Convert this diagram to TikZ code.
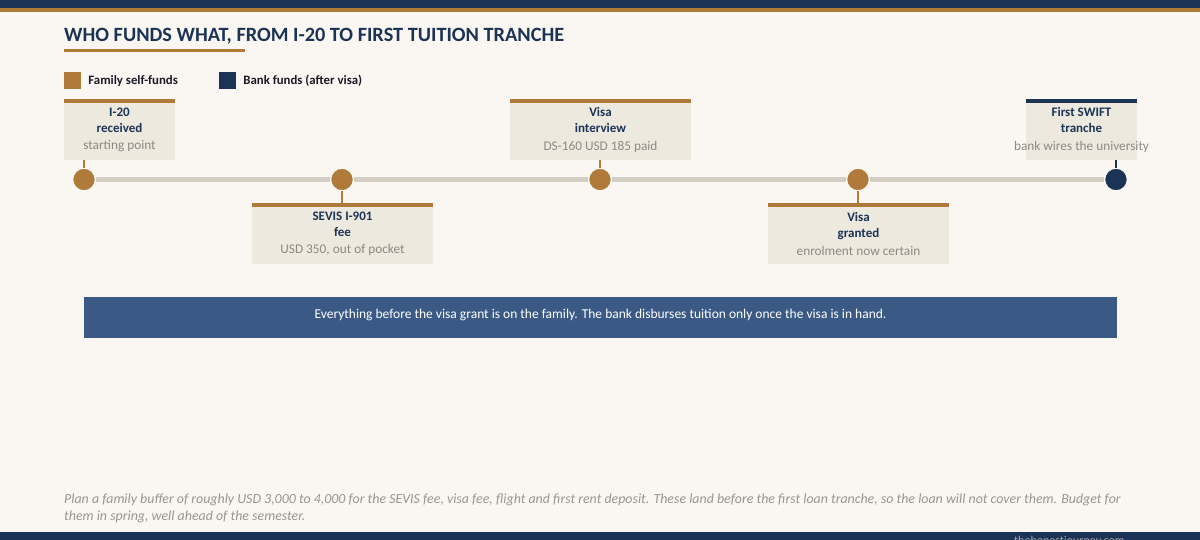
\documentclass[tikz,border=0pt]{standalone}
\usepackage{fontspec}
\setmainfont{Carlito}
\usetikzlibrary{positioning}
\definecolor{bgcol}{HTML}{FAF7F2}
\definecolor{navy}{HTML}{1B3455}
\definecolor{gold}{HTML}{B07B3A}
\definecolor{cardfill}{HTML}{EDE9DF}
\definecolor{trackgrey}{HTML}{D3CFC4}
\definecolor{subgrey}{HTML}{8E8A82}
\definecolor{bannerblue}{HTML}{3A5A85}
\definecolor{notegrey}{HTML}{9A968E}
\definecolor{keyink}{HTML}{1A1A28}
\tikzset{
  card/.style={fill=cardfill, minimum height=61pt, inner sep=0pt,
    path picture={\fill[#1] (path picture bounding box.north west)
      rectangle ([yshift=-4pt]path picture bounding box.north east);}},
  cardtext/.style={align=center, inner sep=0pt, text=navy,
    font=\fontsize{13}{16}\selectfont\bfseries},
  dot/.style={circle, fill=#1, draw=bgcol, line width=2pt, minimum size=23.5pt,
    inner sep=0pt, outer sep=0pt},
  track/.style={draw=trackgrey, line width=4.7pt},
  stem/.style={draw=#1, line width=2pt},
  swatch/.style={fill=#1, minimum size=17pt, inner sep=0pt},
  keytext/.style={font=\fontsize{12.8}{15}\selectfont\bfseries, text=keyink, inner sep=0pt}
}
\newcommand{\cardlabel}[3]{#1\\#2\\[1.5pt]{\color{subgrey}\fontsize{13.3}{14}\selectfont\mdseries #3}}

\begin{document}
\begin{tikzpicture}[x=1pt,y=-1pt]
\useasboundingbox (0,0) rectangle (1200,540);
\fill[bgcol] (0,0) rectangle (1200,540);
% top rule
\fill[navy] (0,0) rectangle (1200,8);
\fill[gold] (0,8) rectangle (1200,12.5);
% title and legend
\node[anchor=base west, inner sep=0pt, text=navy, font=\fontsize{20.3}{24}\selectfont\bfseries] (title) at (64,41.5) {WHO FUNDS WHAT, FROM I-20 TO FIRST TUITION TRANCHE};
\fill[gold] (64,49) rectangle (245,52.5);
\node[swatch=gold] (k1) at (72.5,81) {};
\node[keytext, right=7pt of k1] (k1t) {Family self-funds};
\node[swatch=navy] (k2) at (227.5,81) {};
\node[keytext, right=7pt of k2] (k2t) {Bank funds (after visa)};
% cards
\node[card=gold, minimum width=111pt] (c1) at (119.5,129.5) {};
\node[card=gold, minimum width=181pt] (c2) at (342.5,233.5) {};
\node[card=gold, minimum width=181pt] (c3) at (600.5,129.5) {};
\node[card=gold, minimum width=181pt] (c4) at (858.5,233.5) {};
\node[card=navy, minimum width=111pt] (c5) at (1081.5,129.5) {};
\node[cardtext] (t1) at ([yshift=-0.5pt]c1) {\cardlabel{I-20}{received}{starting point}};
\node[cardtext] (t2) at ([yshift=-0.5pt]c2) {\cardlabel{SEVIS I-901}{fee}{USD 350, out of pocket}};
\node[cardtext] (t3) at ([yshift=-0.5pt]c3) {\cardlabel{Visa}{interview}{DS-160 USD 185 paid}};
\node[cardtext] (t4) at ([yshift=-0.5pt]c4) {\cardlabel{Visa}{granted}{enrolment now certain}};
\node[cardtext] (t5) at ([yshift=-0.5pt]c5) {\cardlabel{First SWIFT}{tranche}{bank wires the university}};
% timeline
\node[dot=gold] (d1) at (84,179.5) {};
\node[dot=gold] (d2) at (342,179.5) {};
\node[dot=gold] (d3) at (600,179.5) {};
\node[dot=gold] (d4) at (858,179.5) {};
\node[dot=navy] (d5) at (1116,179.5) {};
\draw[track] (d1) -- (d2);
\draw[track] (d2) -- (d3);
\draw[track] (d3) -- (d4);
\draw[track] (d4) -- (d5);
\draw[stem=gold] (d1) -- (d1 |- c1.south);
\draw[stem=gold] (d2) -- (d2 |- c2.north);
\draw[stem=gold] (d3) -- (d3 |- c3.south);
\draw[stem=gold] (d4) -- (d4 |- c4.north);
\draw[stem=navy] (d5) -- (d5 |- c5.south);
% banner
\node[fill=bannerblue, minimum width=1033pt, minimum height=41pt, inner sep=0pt] (band) at (600.5,317.5) {};
\node[text=white, inner sep=0pt, font=\fontsize{13.5}{16}\selectfont] (bandtext) at ([yshift=-18.5pt]band.north) {Everything before the visa grant is on the family. The bank disburses tuition only once the visa is in hand.};
% note
\node[anchor=base west, align=left, inner sep=0pt, text=notegrey, font=\fontsize{13.9}{17.5}\selectfont\itshape] (note) at (64,520.5) {Plan a family buffer of roughly USD 3,000 to 4,000 for the SEVIS fee, visa fee, flight and first rent deposit. These land before the first loan tranche, so the loan will not cover them. Budget for\\them in spring, well ahead of the semester.};
% footer
\fill[navy] (0,532) rectangle (1200,540);
\node[anchor=base west, inner sep=0pt, text=black!35, font=\fontsize{12}{14}\selectfont] (site) at (1014,544.5) {thehonestjourney.com};
\end{tikzpicture}
\end{document}
